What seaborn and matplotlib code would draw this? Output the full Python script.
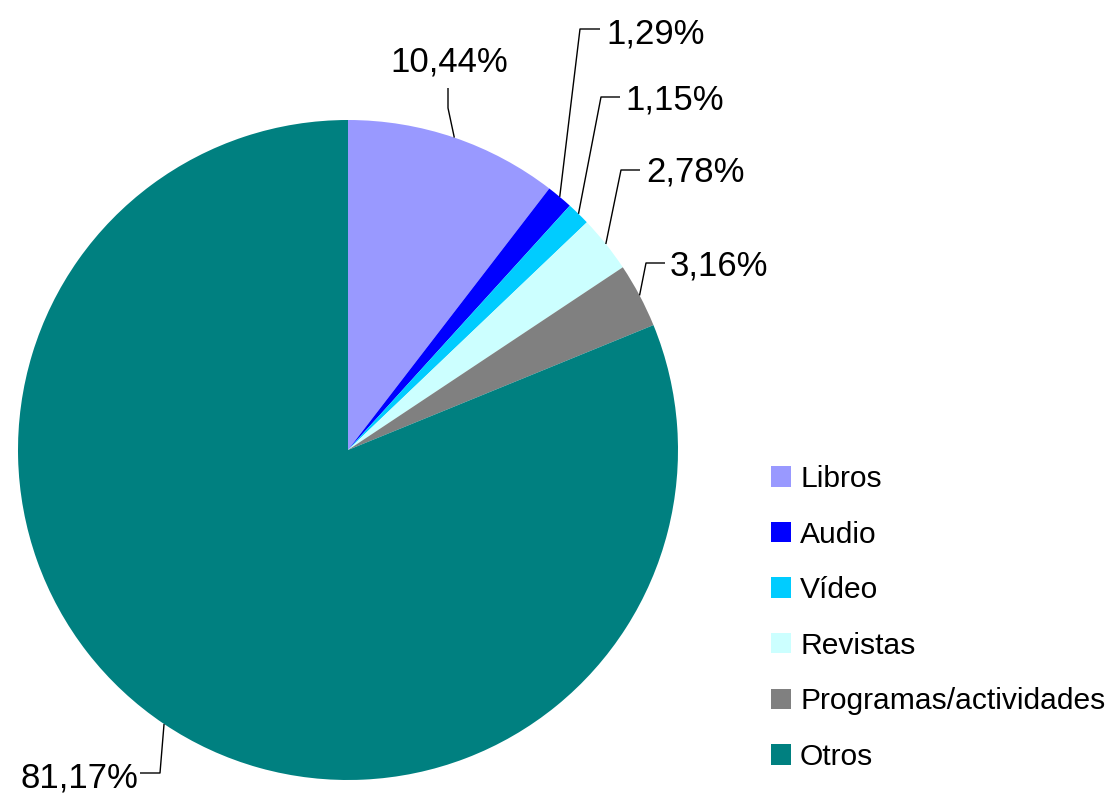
import numpy as np
import matplotlib
matplotlib.use("Agg")
import matplotlib.pyplot as plt
import seaborn as sns

categories = ["Libros", "Audio", "Vídeo", "Revistas", "Programas/actividades", "Otros"]
values = [10.44, 1.29, 1.15, 2.78, 3.16, 81.17]
label_texts = ["10,44%", "1,29%", "1,15%", "2,78%", "3,16%", "81,17%"]
colors = ["#9999FF", "#0000FF", "#00CCFF", "#CCFFFF", "#808080", "#008080"]

sns.set_theme(style="white")
plt.rcParams["font.family"] = ["Liberation Sans", "DejaVu Sans"]
plt.rcParams["text.color"] = "black"

W, H = 1113, 795
fig = plt.figure(figsize=(W / 100, H / 100), dpi=100)
ax = fig.add_axes([0, 0, 1, 1])

cx, cy, R = 348, H - 450, 330
wedges, _ = ax.pie(values, colors=colors, startangle=90, counterclock=False,
                   center=(cx, cy), radius=R, wedgeprops=dict(linewidth=0))
ax.set_xlim(0, W)
ax.set_ylim(0, H)
ax.set_aspect("equal")
ax.axis("off")

# label layout in pixel coords (y from top): leader path points after edge, text anchor
layout = [
    dict(path=[(448, 108), (448, 88)], text=(449, 72), ha="center"),
    dict(path=[(580, 29), (600, 29)], text=(606, 43), ha="left"),
    dict(path=[(601, 97), (620, 97)], text=(625, 109), ha="left"),
    dict(path=[(621, 170), (640, 170)], text=(646, 182), ha="left"),
    dict(path=[(646, 263), (665, 263)], text=(670, 275), ha="left"),
    dict(path=[(160, 773), (140, 773)], text=(138, 788), ha="right"),
]

for w, lab, lay in zip(wedges, label_texts, layout):
    mid = np.deg2rad((w.theta1 + w.theta2) / 2)
    ex, ey = cx + R * np.cos(mid), cy + R * np.sin(mid)
    xs = [ex] + [p[0] for p in lay["path"]]
    ys = [ey] + [H - p[1] for p in lay["path"]]
    ax.plot(xs, ys, color="black", lw=1, solid_capstyle="butt")
    ax.text(lay["text"][0], H - lay["text"][1], lab, ha=lay["ha"], va="baseline",
            fontsize=25, color="black")

leg = ax.legend(wedges, categories, loc="upper left",
                bbox_to_anchor=(771 / W, 1 - 465 / H), bbox_transform=fig.transFigure,
                frameon=False, fontsize=21.6, handlelength=0.67, handleheight=0.67,
                handletextpad=0.3, labelspacing=0.92, borderpad=0, borderaxespad=0,
                labelcolor="black")

fig.savefig("out.png", dpi=100)
